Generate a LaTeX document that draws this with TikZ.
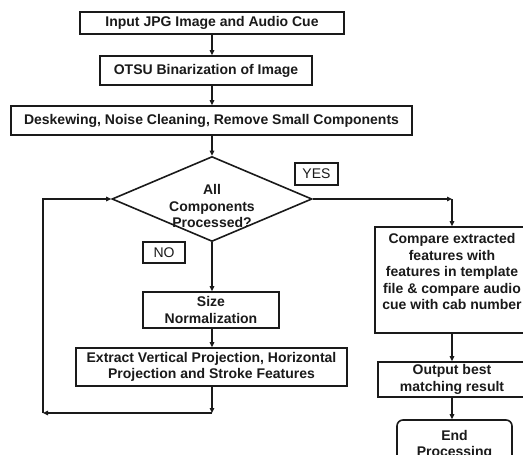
\documentclass[tikz,border=0pt]{standalone}
\usepackage{fontspec}
\setmainfont{Liberation Sans}
\usetikzlibrary{arrows.meta,shapes.geometric}
\definecolor{ink}{HTML}{1A1A1A}
\tikzset{
  base/.style={draw=ink, line width=1.6pt, text=ink, inner sep=0pt, align=center,
    font=\fontsize{14}{16.5}\selectfont\bfseries},
  procbox/.style={base, rectangle},
  tagbox/.style={draw=ink, line width=1.4pt, text=ink, inner sep=0pt,
    font=\fontsize{14}{16.5}\selectfont},
  flow/.style={draw=ink, line width=1.6pt, -{Triangle[length=5pt,width=4.5pt]}},
  plain/.style={draw=ink, line width=1.6pt},
}
\begin{document}
\begin{tikzpicture}[x=1pt,y=-1pt]
\useasboundingbox (0,0) rectangle (523,455);
\clip (0,0) rectangle (523,455);
\fill[white] (0,0) rectangle (523,455);

\node[procbox, minimum width=264pt, minimum height=22pt] (in) at (212,23) {Input JPG Image and Audio Cue};
\node[procbox, minimum width=212pt, minimum height=29pt] (otsu) at (206,70.5) {OTSU Binarization of Image};
\node[procbox, minimum width=401pt, minimum height=29pt] (desk) at (211.5,120.5) {Deskewing, Noise Cleaning, Remove Small Components};
\node[base, diamond, minimum width=200pt, minimum height=85pt] (dia) at (212,199) {};
\node[text=ink, align=center, inner sep=0pt, font=\fontsize{14}{16.5}\selectfont\bfseries] (diatext) at (212,206) {All\\Components\\Processed?};
\node[tagbox, minimum width=43pt, minimum height=22pt] (yes) at (316.5,174) {YES};
\node[tagbox, minimum width=42pt, minimum height=21pt] (no) at (164,252.5) {NO};
\node[procbox, minimum width=136pt, minimum height=36pt] (size) at (211,310) {Size\\Normalization};
\node[procbox, minimum width=271pt, minimum height=38pt] (ext) at (211.5,367) {Extract Vertical Projection, Horizontal\\Projection and Stroke Features};
\node[procbox, minimum width=154pt, minimum height=106pt] (cmp) at (452,280) {Compare extracted\\features with\\features in template\\file \& compare audio\\cue with cab number\\\mbox{}};
\node[procbox, minimum width=148pt, minimum height=35pt] (out) at (452,379.5) {Output best\\matching result};
\node[procbox, rounded corners=6pt, minimum width=115pt, minimum height=50pt] (end) at (454.5,445) {End\\Processing};

\coordinate (c1) at (212,413);
\coordinate (c2) at (43,413);
\coordinate (c3) at (452,199);

\draw[flow] (in.south) -- (in.south |- otsu.north);
\draw[flow] (otsu.south -| in.south) -- (in.south |- desk.north);
\draw[flow] (desk.south -| dia.north) -- (dia.north);
\draw[flow] (dia.south) -- (dia.south |- size.north);
\draw[flow] (size.south -| dia.south) -- (dia.south |- ext.north);
\draw[flow] (ext.south -| c1) -- (c1);
\draw[flow] (c1) -- (c2);
\draw[flow] (c2) |- (dia.west);
\draw[flow] (dia.east) -- (c3);
\draw[flow] (c3) -- (cmp.north);
\draw[flow] (cmp.south) -- (out.north);
\draw[flow] (out.south) -- (out.south |- end.north);
\end{tikzpicture}
\end{document}
